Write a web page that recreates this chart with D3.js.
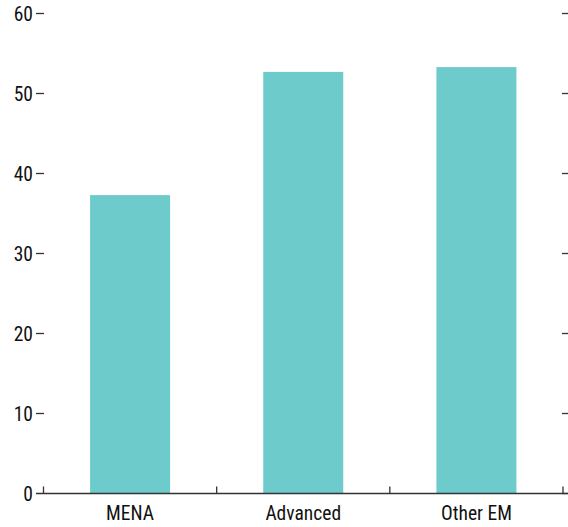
<!DOCTYPE html>
<html><head><meta charset="utf-8">
<script src="https://cdn.jsdelivr.net/npm/d3@7"></script>
<style>
body{margin:0;background:#fff;}
text{font-family:"Liberation Sans Narrow","Arial Narrow","Roboto Condensed","Liberation Sans",sans-serif;fill:#111;}
</style></head>
<body><svg id="c" width="568" height="527"></svg>
<script>
const categories = ["MENA", "Advanced", "Other EM"];
const values = [37.3, 52.7, 53.3];
const yTicks = [0, 10, 20, 30, 40, 50, 60];

const svg = d3.select("#c");
const x0 = 43.5, x1 = 563, yB = 493.5, yT = 13.5;
const y = d3.scaleLinear().domain([0, 60]).range([yB, yT]);
const band = d3.scaleBand().domain(categories).range([x0, x1]).paddingInner(0.538).paddingOuter(0.269);
const step = d3.scaleBand().domain(categories).range([x0, x1]).padding(0);

svg.selectAll("rect.bar").data(values).join("rect")
  .attr("x", (d, i) => band(categories[i]))
  .attr("width", band.bandwidth())
  .attr("y", d => y(d))
  .attr("height", d => yB - y(d))
  .attr("fill", "#6ecbcc");

const g = svg.append("g");
yTicks.forEach(t => {
  if (t !== 0) {
    g.append("line").attr("x1", 36).attr("x2", 44).attr("y1", y(t)).attr("y2", y(t))
      .attr("stroke", "#333").attr("stroke-width", 1.3);
  }
  g.append("line").attr("x1", 562).attr("x2", 568).attr("y1", y(t)).attr("y2", y(t))
    .attr("stroke", "#333").attr("stroke-width", 1.3);
  g.append("text").attr("x", 33).attr("y", y(t)).attr("dy", "0.36em")
    .attr("text-anchor", "end").attr("font-size", 19.5).text(t);
});

svg.append("line").attr("x1", 36).attr("x2", 568).attr("y1", yB).attr("y2", yB)
  .attr("stroke", "#333").attr("stroke-width", 1.5);

const seps = categories.map(c => step(c)).concat([x1]);
seps.forEach(sx => {
  svg.append("line").attr("x1", sx).attr("x2", sx).attr("y1", yB).attr("y2", yB - 7)
    .attr("stroke", "#333").attr("stroke-width", 1.3);
});

categories.forEach(c => {
  svg.append("text").attr("x", band(c) + band.bandwidth() / 2).attr("y", 520)
    .attr("text-anchor", "middle").attr("font-size", 19.5).text(c);
});
</script></body></html>
